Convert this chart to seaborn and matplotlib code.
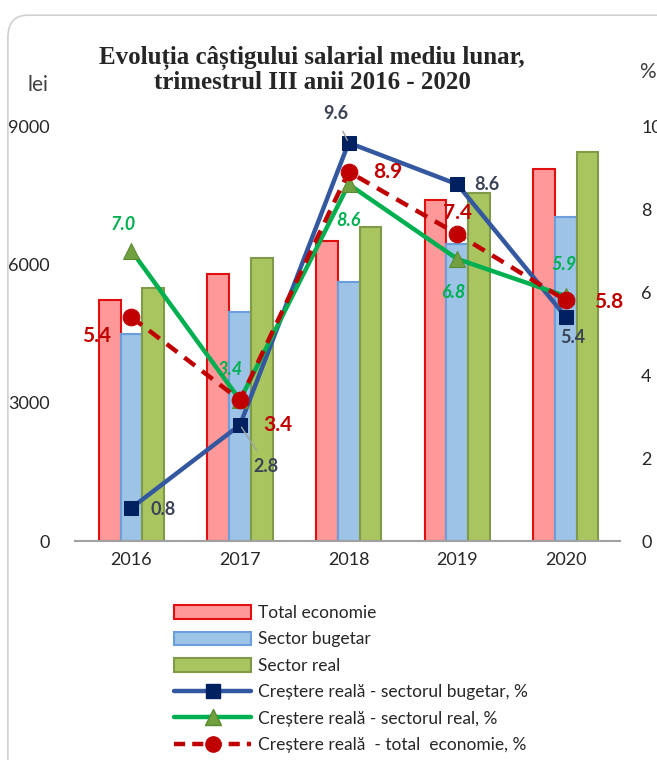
import matplotlib.pyplot as plt
import numpy as np
import pandas as pd
import seaborn as sns
from matplotlib.lines import Line2D
from matplotlib.patches import Patch, FancyBboxPatch

ani = ["2016", "2017", "2018", "2019", "2020"]
total_economie = [5220, 5800, 6520, 7390, 8080]
sector_bugetar = [4500, 4980, 5630, 6450, 7040]
sector_real = [5500, 6130, 6820, 7550, 8450]

crestere_bugetar = [0.8, 2.8, 9.6, 8.6, 5.4]
crestere_real = [7.0, 3.4, 8.6, 6.8, 5.9]
crestere_total = [5.4, 3.4, 8.9, 7.4, 5.8]

serii = ["Total economie", "Sector bugetar", "Sector real"]

# label offsets in points (style only)
off_bug = [(23, -1), (19, -30), (-9, 21), (21, 0), (5, -15)]
off_real = [(-6, 19), (-7, 22), (0, -26), (-3, -24), (-1, 23)]
off_tot = [(-25, -14), (27, -18), (28, 0), (0, 15), (31, -1)]

df = pd.DataFrame({
	"an": ani * 3,
	"serie": [s for s in serii for _ in ani],
	"lei": total_economie + sector_bugetar + sector_real,
})

fill = ["#ff9999", "#9dc3e6", "#a9c560"]
edge = ["#e01010", "#6a9fdc", "#7f9a48"]

sns.set_style("white")
plt.rcParams["font.family"] = ["Lato", "DejaVu Sans"]

fig = plt.figure(figsize=(6.57, 7.6), dpi=100)
fig.patches.append(FancyBboxPatch((0.012, -0.05), 1.1, 1.03, boxstyle="round,pad=0,rounding_size=0.03",
	transform=fig.transFigure, fill=False, edgecolor="#d0d0d0", linewidth=1.2))

ax = fig.add_axes([0.114, 0.288, 0.83, 0.546])
sns.barplot(data=df, x="an", y="lei", hue="serie", palette=fill, width=0.6, ax=ax,
	gap=0, legend=False, saturation=1)
for i, cont in enumerate(ax.containers):
	for p in cont:
		p.set_edgecolor(edge[i])
		p.set_linewidth(1.5)

ax.set_ylim(0, 9000)
ax.set_xlim(-0.52, 4.5)
ax.set_yticks([0, 3000, 6000, 9000])
ax.set_xlabel("")
ax.set_ylabel("")
for s in ["left", "right", "top"]:
	ax.spines[s].set_visible(False)
ax.spines["bottom"].set_color("#a0a0a0")
ax.spines["bottom"].set_linewidth(1.5)
ax.tick_params(axis="both", length=0, labelsize=13, pad=8)
ax.tick_params(axis="y", pad=18)

ax2 = ax.twinx()
x = np.arange(len(ani))
sns.lineplot(x=x, y=crestere_bugetar, ax=ax2, color="#3358a0", linewidth=3.2, marker="s",
	markersize=10, markerfacecolor="#002060", markeredgecolor="#002060", sort=False)
sns.lineplot(x=x, y=crestere_real, ax=ax2, color="#00b050", linewidth=3.2, marker="^",
	markersize=12, markerfacecolor="#70a040", markeredgecolor="#5a8a30", sort=False)
sns.lineplot(x=x, y=crestere_total, ax=ax2, color="#c00000", linewidth=3.2, marker="o",
	markersize=12, markerfacecolor="#c00000", markeredgecolor="#c00000", sort=False,
	dashes=False, linestyle=(0, (3, 2)))
ax2.set_ylim(0, 10)
ax2.set_yticks([0, 2, 4, 6, 8, 10])
ax2.set_yticklabels(["0", "2", "4", "6", "8", "10"])
ax2.tick_params(axis="y", length=0, labelsize=13, pad=15)
for s in ax2.spines.values():
	s.set_visible(False)
ax2.set_ylabel("")

for i in range(len(ani)):
	ax2.annotate(f"{crestere_bugetar[i]:.1f}", (x[i], crestere_bugetar[i]), xytext=off_bug[i],
		textcoords="offset points", ha="center", va="center", fontsize=13, fontweight="bold",
		color="#3a4256")
	ax2.annotate(f"{crestere_real[i]:.1f}", (x[i], crestere_real[i]), xytext=off_real[i],
		textcoords="offset points", ha="center", va="center", fontsize=13, fontweight="bold",
		fontstyle="italic", color="#00b050")
	ax2.annotate(f"{crestere_total[i]:.1f}", (x[i], crestere_total[i]), xytext=off_tot[i],
		textcoords="offset points", ha="center", va="center", fontsize=15, fontweight="bold",
		color="#c00000")

# leader lines
ax2.annotate("", (x[1], crestere_bugetar[1]), xytext=(13, -20), textcoords="offset points",
	arrowprops=dict(arrowstyle="-", color="#a0a0a0", lw=1))
ax2.annotate("", (x[2], crestere_bugetar[2]), xytext=(-5, 10), textcoords="offset points",
	arrowprops=dict(arrowstyle="-", color="#a0a0a0", lw=1))

fig.text(0.475, 0.908, "Evoluția câștigului salarial mediu lunar,\ntrimestrul III anii 2016 - 2020",
	ha="center", va="center", fontsize=18, fontweight="bold", family="Liberation Serif",
	linespacing=1.05)
fig.text(0.058, 0.888, "lei", ha="center", va="center", fontsize=15, color="#404040")
fig.text(0.985, 0.905, "%", ha="center", va="center", fontsize=15, color="#404040")

handles = [Patch(facecolor=fill[i], edgecolor=edge[i], linewidth=1.5) for i in range(3)]
handles += [
	Line2D([], [], color="#3358a0", linewidth=3.2, marker="s", markersize=10,
		markerfacecolor="#002060", markeredgecolor="#002060"),
	Line2D([], [], color="#00b050", linewidth=3.2, marker="^", markersize=11,
		markerfacecolor="#70a040", markeredgecolor="#5a8a30"),
	Line2D([], [], color="#c00000", linewidth=3.2, marker="o", markersize=11,
		linestyle=(0, (2.5, 1.6))),
]
labels = serii + ["Creștere reală - sectorul bugetar, %", "Creștere reală - sectorul real, %",
	"Creștere reală  - total  economie, %"]
fig.legend(handles, labels, loc="upper left", bbox_to_anchor=(0.255, 0.213), frameon=False,
	fontsize=12.5, handlelength=4.4, handleheight=0.8, labelspacing=0.6, handletextpad=0.4,
	borderaxespad=0)

fig.savefig("out.png", dpi=100)
